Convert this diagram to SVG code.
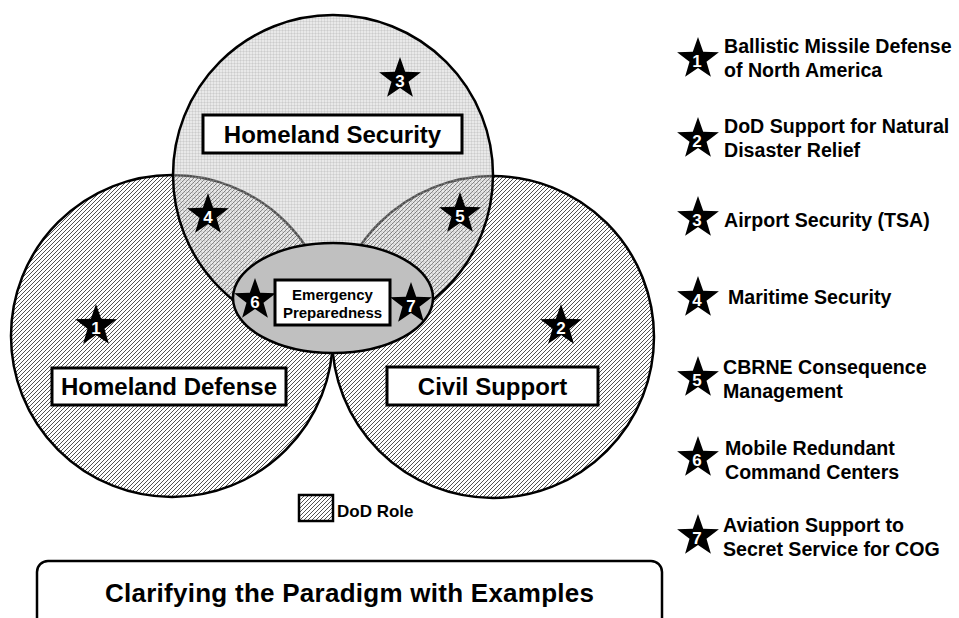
<svg xmlns="http://www.w3.org/2000/svg" xmlns:xlink="http://www.w3.org/1999/xlink" width="959" height="618" viewBox="0 0 959 618">
<style>
.t{font-family:"Liberation Sans",Arial,sans-serif;font-weight:bold;fill:#000}
.lbl{font-size:24px;text-anchor:middle}
.leg{font-size:19.6px}
.num{font-family:"Liberation Sans",Arial,sans-serif;font-weight:bold;font-size:17px;fill:#fff;text-anchor:middle}
.box{fill:#fff;stroke:#000;stroke-width:3}
.ring{stroke:#000;stroke-width:2.5}
</style>
<defs>
<pattern id="hatch" patternUnits="userSpaceOnUse" width="4" height="4">
<rect width="4" height="4" fill="#fff"/>
<path d="M-1,1 L1,-1 M0,4 L4,0 M3,5 L5,3" stroke="#333" stroke-width="0.85"/>
</pattern>
<pattern id="grid" patternUnits="userSpaceOnUse" width="3" height="3">
<rect width="3" height="3" fill="#c8c8c8" fill-opacity="0.4"/>
<path d="M0,0.5 H3 M0.5,0 V3" stroke="#a8a8a8" stroke-opacity="0.25" stroke-width="1"/>
</pattern>
<path id="star" d="M0,-22 L5.2,-7.2 L20.9,-6.8 L8.5,2.8 L12.9,17.8 L0,8.9 L-12.9,17.8 L-8.5,2.8 L-20.9,-6.8 L-5.2,-7.2 Z" fill="#000"/>
</defs>
<rect width="959" height="618" fill="#fff"/>

<g id="homeland-defense">
<circle class="ring" cx="172" cy="336" r="161" fill="url(#hatch)"/>
</g>
<g id="civil-support">
<circle class="ring" cx="493" cy="337" r="161" fill="url(#hatch)"/>
</g>
<g id="homeland-security">
<circle class="ring" cx="333" cy="175" r="160" fill="url(#grid)"/>
</g>
<g id="emergency-preparedness">
<ellipse class="ring" cx="333" cy="298" rx="100" ry="55" fill="#c0c0c0"/>
<rect class="box" x="275" y="280" width="115" height="45"/>
<text class="t" x="332.5" y="300" font-size="15" text-anchor="middle">Emergency</text>
<text class="t" x="332.5" y="318" font-size="15" text-anchor="middle">Preparedness</text>
</g>

<g id="label-homeland-security">
<rect class="box" x="203" y="115" width="259" height="38"/>
<text class="t lbl" x="332.5" y="143">Homeland Security</text>
</g>
<g id="label-homeland-defense">
<rect class="box" x="52" y="368" width="234" height="37"/>
<text class="t lbl" x="169" y="395">Homeland Defense</text>
</g>
<g id="label-civil-support">
<rect class="box" x="387" y="367" width="211" height="38"/>
<text class="t lbl" x="492.5" y="395">Civil Support</text>
</g>

<g id="diagram-stars">
<g id="star-d1"><use xlink:href="#star" x="96" y="326"/><text class="num" x="96" y="334">1</text></g>
<g id="star-d2"><use xlink:href="#star" x="561" y="326"/><text class="num" x="561" y="334">2</text></g>
<g id="star-d3"><use xlink:href="#star" x="400" y="79"/><text class="num" x="400" y="87">3</text></g>
<g id="star-d4"><use xlink:href="#star" x="208" y="215"/><text class="num" x="208" y="223">4</text></g>
<g id="star-d5"><use xlink:href="#star" x="460" y="214"/><text class="num" x="460" y="222">5</text></g>
<g id="star-d6"><use xlink:href="#star" x="255" y="300"/><text class="num" x="255" y="308">6</text></g>
<g id="star-d7"><use xlink:href="#star" x="411" y="304"/><text class="num" x="411" y="312">7</text></g>
</g>

<g id="legend-dod-role">
<rect x="299" y="495" width="34" height="26" fill="url(#hatch)" stroke="#000" stroke-width="2.5"/>
<text class="t" x="337" y="517" font-size="17">DoD Role</text>
</g>

<g id="legend-items">
<g id="item1"><use xlink:href="#star" x="698" y="59"/><text class="num" x="697" y="67">1</text>
<text class="t leg" x="724" y="53">Ballistic Missile Defense</text><text class="t leg" x="724" y="77">of North America</text></g>
<g id="item2"><use xlink:href="#star" x="698" y="139"/><text class="num" x="697" y="147">2</text>
<text class="t leg" x="724" y="133">DoD Support for Natural</text><text class="t leg" x="724" y="157">Disaster Relief</text></g>
<g id="item3"><use xlink:href="#star" x="698" y="218"/><text class="num" x="697" y="226">3</text>
<text class="t leg" x="724" y="227">Airport Security (TSA)</text></g>
<g id="item4"><use xlink:href="#star" x="698" y="298"/><text class="num" x="697" y="306">4</text>
<text class="t leg" x="728" y="304">Maritime Security</text></g>
<g id="item5"><use xlink:href="#star" x="698" y="378"/><text class="num" x="697" y="386">5</text>
<text class="t leg" x="723" y="374">CBRNE Consequence</text><text class="t leg" x="723" y="398">Management</text></g>
<g id="item6"><use xlink:href="#star" x="698" y="458"/><text class="num" x="697" y="466">6</text>
<text class="t leg" x="725" y="455">Mobile Redundant</text><text class="t leg" x="725" y="479">Command Centers</text></g>
<g id="item7"><use xlink:href="#star" x="698" y="536"/><text class="num" x="697" y="544">7</text>
<text class="t leg" x="723" y="532">Aviation Support to</text><text class="t leg" x="723" y="556">Secret Service for COG</text></g>
</g>

<g id="title">
<rect x="37" y="561" width="625" height="80" rx="11" ry="11" fill="#fff" stroke="#000" stroke-width="2.5"/>
<text class="t" x="349.5" y="602" font-size="26" text-anchor="middle" textLength="489" lengthAdjust="spacing">Clarifying the Paradigm with Examples</text>
</g>
</svg>
